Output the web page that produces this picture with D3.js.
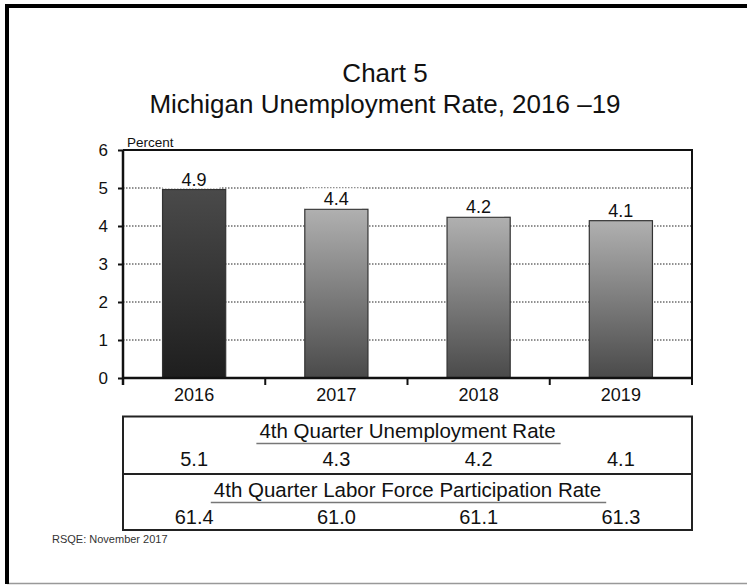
<!DOCTYPE html>
<html>
<head>
<meta charset="utf-8">
<script src="https://cdn.jsdelivr.net/npm/d3@7"></script>
<style>
  html, body { margin: 0; padding: 0; background: #fff; }
  svg { display: block; font-family: "Liberation Sans", Arial, Helvetica, sans-serif; }
</style>
</head>
<body>
<svg id="chart" width="747" height="585"></svg>
<script>
// ---- data ----
const years = ["2016", "2017", "2018", "2019"];
const annualRate = [4.96, 4.44, 4.23, 4.14];
const barLabels = ["4.9", "4.4", "4.2", "4.1"];
const yTicks = [0, 1, 2, 3, 4, 5, 6];
const q4Unemployment = ["5.1", "4.3", "4.2", "4.1"];
const q4Participation = ["61.4", "61.0", "61.1", "61.3"];
const titleLines = ["Chart 5", "Michigan Unemployment Rate, 2016 \u201319"];
const tableTitles = ["4th Quarter Unemployment Rate", "4th Quarter Labor Force Participation Rate"];
const yLabel = "Percent";
const source = "RSQE: November 2017";

const svg = d3.select("#chart");
const W = 747, H = 585;
const pL = 123, pR = 692, pT = 150, pB = 378;

// outer frame
svg.append("rect").attr("x", 0).attr("y", 0).attr("width", W).attr("height", H).attr("fill", "#fff");
svg.append("line").attr("x1", 7).attr("x2", W).attr("y1", 583.5).attr("y2", 583.5)
  .attr("stroke", "#999").attr("stroke-width", 1.5);
svg.append("line").attr("x1", 7).attr("x2", 7).attr("y1", 4).attr("y2", 584)
  .attr("stroke", "#000").attr("stroke-width", 4);
svg.append("line").attr("x1", 5).attr("x2", W).attr("y1", 6).attr("y2", 6)
  .attr("stroke", "#000").attr("stroke-width", 4);

// title
svg.selectAll("text.title").data(titleLines).join("text")
  .attr("class", "title")
  .attr("x", 385).attr("y", (d, i) => 82 + i * 31)
  .attr("text-anchor", "middle").attr("font-size", 26).attr("fill", "#111")
  .text(d => d);

// scales
const x = d3.scaleBand().domain(years).range([pL, pR]).paddingInner(0.556).paddingOuter(0.278);
const y = d3.scaleLinear().domain([0, 6]).range([pB, pT]);
const step = x.step();

// gradients
const defs = svg.append("defs");
function grad(id, c1, c2) {
  const g = defs.append("linearGradient").attr("id", id).attr("x1", 0).attr("x2", 0).attr("y1", 0).attr("y2", 1);
  g.append("stop").attr("offset", "0%").attr("stop-color", c1);
  g.append("stop").attr("offset", "100%").attr("stop-color", c2);
}
grad("gDark", "#4a4a4a", "#1e1e1e");
grad("gLight", "#b0b0b0", "#4a4a4a");

// gridlines
svg.append("g").selectAll("line").data(yTicks.filter(t => t > 0 && t < 6)).join("line")
  .attr("x1", pL).attr("x2", pR)
  .attr("y1", d => y(d)).attr("y2", d => y(d))
  .attr("stroke", "#222").attr("stroke-width", 1).attr("stroke-dasharray", "1.5,1.5");

// bars
const data = years.map((yr, i) => ({ year: yr, v: annualRate[i], label: barLabels[i] }));
svg.append("g").selectAll("rect").data(data).join("rect")
  .attr("x", d => x(d.year)).attr("width", x.bandwidth())
  .attr("y", d => y(d.v)).attr("height", d => y(0) - y(d.v))
  .attr("fill", (d, i) => i === 0 ? "url(#gDark)" : "url(#gLight)")
  .attr("stroke", "#333").attr("stroke-width", 1.2);

// value labels with white backing
const lab = svg.append("g").selectAll("g").data(data).join("g");
lab.append("rect")
  .attr("x", d => x(d.year)).attr("width", x.bandwidth() - 6)
  .attr("y", d => y(d.v) - 21).attr("height", 20).attr("fill", "#fff");
lab.append("text")
  .attr("x", d => x(d.year) + x.bandwidth() / 2).attr("y", d => y(d.v) - 4)
  .attr("text-anchor", "middle").attr("font-size", 18).attr("fill", "#111")
  .text(d => d.label);

// plot frame (top + right)
svg.append("path")
  .attr("d", `M${pL},${pT}H${pR}V${pB + 7}`)
  .attr("fill", "none").attr("stroke", "#111").attr("stroke-width", 2);

// y axis
const yAxis = svg.append("g").attr("transform", `translate(${pL},0)`)
  .call(d3.axisLeft(y).tickValues(yTicks).tickFormat(d3.format("d")).tickSize(5).tickPadding(10).tickSizeOuter(0));
yAxis.select(".domain").attr("stroke", "#111").attr("stroke-width", 2.5)
  .attr("d", `M0,${pT}V${pB + 7}`);
yAxis.selectAll(".tick line").attr("stroke", "#111").attr("stroke-width", 2);
yAxis.selectAll(".tick text").attr("font-size", 17).attr("fill", "#111")
  .attr("font-family", "Liberation Sans, Arial, sans-serif");

// x axis baseline
svg.append("line").attr("x1", pL).attr("x2", pR).attr("y1", pB).attr("y2", pB)
  .attr("stroke", "#111").attr("stroke-width", 2.5);
// boundary ticks
const bounds = d3.range(years.length + 1).map(i => pL + i * step);
svg.append("g").selectAll("line").data(bounds).join("line")
  .attr("x1", d => d).attr("x2", d => d).attr("y1", pB).attr("y2", pB + 7)
  .attr("stroke", "#111").attr("stroke-width", 2);
// category labels
svg.append("g").selectAll("text").data(years).join("text")
  .attr("x", d => x(d) + x.bandwidth() / 2).attr("y", 401)
  .attr("text-anchor", "middle").attr("font-size", 18).attr("fill", "#111")
  .text(d => d);

// axis title
svg.append("text").attr("x", 127).attr("y", 147).attr("font-size", 13.5).attr("fill", "#111").text(yLabel);

// ---- table ----
const tTop = 416.5, tMid = 474, tBot = 530;
svg.append("rect").attr("x", pL).attr("y", tTop).attr("width", pR - pL).attr("height", tBot - tTop)
  .attr("fill", "none").attr("stroke", "#222").attr("stroke-width", 2);
svg.append("line").attr("x1", pL).attr("x2", pR).attr("y1", tMid).attr("y2", tMid)
  .attr("stroke", "#222").attr("stroke-width", 2);

const rows = [
  { title: tableTitles[0], vals: q4Unemployment, tY: 438, vY: 466 },
  { title: tableTitles[1], vals: q4Participation, tY: 497, vY: 523.5 }
];
const cx = (pL + pR) / 2;
rows.forEach(r => {
  const t = svg.append("text").attr("x", cx).attr("y", r.tY).attr("text-anchor", "middle")
    .attr("font-size", 20.5).attr("fill", "#111").text(r.title);
  const bb = t.node().getBBox();
  svg.append("line").attr("x1", bb.x - 3).attr("x2", bb.x + bb.width + 5)
    .attr("y1", r.tY + 5.5).attr("y2", r.tY + 5.5).attr("stroke", "#777").attr("stroke-width", 1.5);
  svg.append("g").selectAll("text").data(r.vals).join("text")
    .attr("x", (d, i) => x(years[i]) + x.bandwidth() / 2).attr("y", r.vY)
    .attr("text-anchor", "middle").attr("font-size", 20).attr("fill", "#111")
    .text(d => d);
});

// source note
svg.append("text").attr("x", 52).attr("y", 543).attr("font-size", 11).attr("fill", "#333").text(source);
</script>
</body>
</html>
